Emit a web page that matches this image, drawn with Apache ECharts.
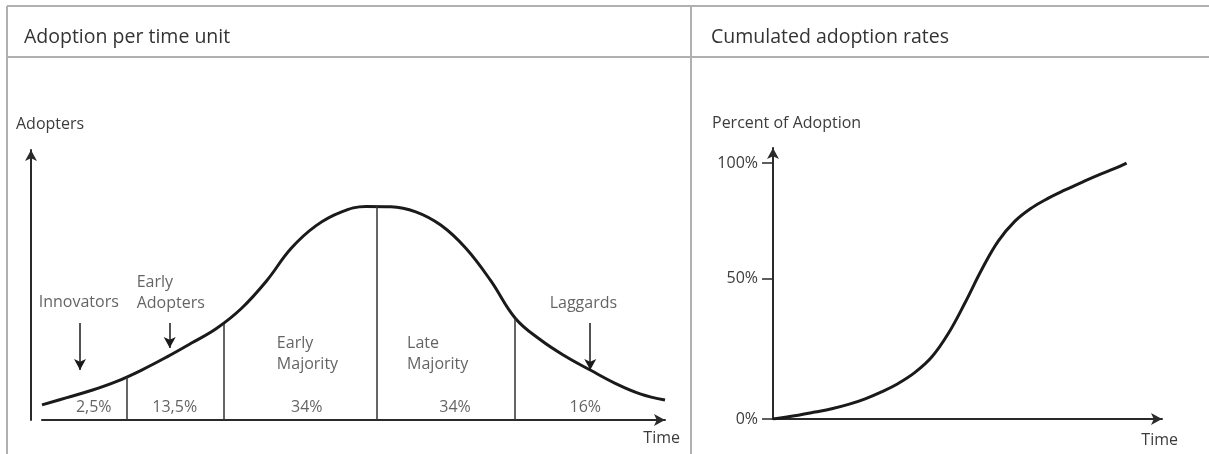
<!DOCTYPE html>
<html>
<head>
<meta charset="utf-8">
<script src="https://cdn.jsdelivr.net/npm/echarts@6/dist/echarts.min.js"></script>
<style>
html,body{margin:0;padding:0;background:#fff;}
#chart{width:1209px;height:454px;}
</style>
</head>
<body>
<div id="chart"></div>
<script>
// ---- Data (arbitrary units) ----
// Left panel: adoption per time unit (bell curve), read at even time steps
const timeUnits = [0, 4, 8, 12, 16, 20, 24, 28, 32, 36, 40, 44, 48, 52, 56, 60, 64, 68, 72, 76, 80, 84, 88, 92, 96, 100];
const adopters  = [5.6, 8.3, 11.0, 14.3, 18.5, 23.3, 28.5, 33.9, 41.3, 51.4, 63.6, 72.0, 77.0, 79.1, 79.0, 77.1, 72.2, 63.7, 51.7, 37.6, 29.7, 23.6, 18.5, 13.6, 9.7, 7.4];
// Segment boundaries: time position and height of each divider line
const dividerTimes = [13.6, 29.2, 53.8, 75.9];
const dividerHeights = [15.9, 35.6, 79.3, 37.6];
// Segment names and shares
const segmentNames = ['Innovators', 'Early\nAdopters', 'Early\nMajority', 'Late\nMajority', 'Laggards'];
const segmentShares = ['2,5%', '13,5%', '34%', '34%', '16%'];
// anchors (time, adopters) for the segment name labels
const nameAnchorTime = [5.9, 15.2, 37.7, 58.6, 86.9];
const nameAnchorLevel = [43.7, 47.2, 24.4, 24.6, 43.3];
// anchors for share labels
const shareAnchorTime = [8.3, 21.3, 42.5, 66.3, 87.2];
const shareAnchorLevel = [4.8, 4.8, 4.8, 4.8, 4.8];
// pointing arrows: time, start level, end level
const arrowTime = [6.1, 20.5, 88.0];
const arrowFrom = [35.9, 35.9, 35.9];
const arrowTo = [18.5, 26.7, 18.5];

// Right panel: cumulated adoption (S-curve)
const cumTime = [0, 6.5, 10.8, 15.1, 19.4, 23.7, 27.9, 32.2, 36.5, 40.8, 45.1, 49.4, 53.7, 57.9, 62.2, 66.5, 70.8, 75.1, 79.4, 83.6, 87.9, 90.9];
const cumAdoption = [0, 1.5, 2.7, 4.0, 5.7, 7.9, 10.6, 13.9, 18.2, 24.2, 33.5, 45.5, 58.5, 69.5, 77.3, 82.5, 86.3, 89.5, 92.5, 95.3, 97.9, 100];
const cumTickValues = [0, 55, 100];
const cumTickLabels = ['0%', '50%', '100%'];

// Titles / axis names
const panelTitles = ['Adoption per time unit', 'Cumulated adoption rates'];
const yNames = ['Adopters', 'Percent of Adoption'];
const xName = 'Time';

// ---- Build option ----
const FONT = 'Open Sans';
const FS = 16;
const TXT = '#3c3c3c';
const INK = '#1a1a1a';
const FRAME = '#b0b0b0';

const bellData = timeUnits.map((t, i) => [t, adopters[i]]);
const cumData = cumTime.map((t, i) => [t, cumAdoption[i]]);

const dividerLines = dividerTimes.map((t, i) => [{coord: [t, 0]}, {coord: [t, dividerHeights[i]]}]);
const arrowLines = arrowTime.map((t, i) => [{coord: [t, arrowFrom[i]]}, {coord: [t, arrowTo[i]]}]);

const nameData = segmentNames.map((n, i) => ({
  value: [nameAnchorTime[i], nameAnchorLevel[i]],
  label: {formatter: n, align: n.indexOf('\n') >= 0 ? 'left' : 'center'}
}));
const shareData = segmentShares.map((s, i) => ({
  value: [shareAnchorTime[i], shareAnchorLevel[i]],
  label: {formatter: s}
}));

const axisLineStyle = {color: '#2a2a2a', width: 2};

const option = {
  animation: false,
  backgroundColor: '#fff',
  textStyle: {fontFamily: FONT},
  title: [
    {text: panelTitles[0], left: 19, top: 22, textStyle: {fontFamily: FONT, fontSize: 19.5, fontWeight: 'normal', color: '#333'}},
    {text: panelTitles[1], left: 706, top: 22, textStyle: {fontFamily: FONT, fontSize: 19.5, fontWeight: 'normal', color: '#333'}}
  ],
  graphic: [
    {type: 'line', shape: {x1: 7, y1: 6, x2: 1209, y2: 6}, style: {stroke: FRAME, lineWidth: 2}},
    {type: 'line', shape: {x1: 7, y1: 57, x2: 1209, y2: 57}, style: {stroke: FRAME, lineWidth: 2}},
    {type: 'line', shape: {x1: 7, y1: 6, x2: 7, y2: 454}, style: {stroke: FRAME, lineWidth: 2}},
    {type: 'line', shape: {x1: 691, y1: 6, x2: 691, y2: 454}, style: {stroke: FRAME, lineWidth: 2}},
    {type: 'text', left: 16, top: 116, style: {text: yNames[0], font: FS + 'px "Open Sans"', fill: TXT}},
    {type: 'text', left: 712, top: 115, style: {text: yNames[1], font: FS + 'px "Open Sans"', fill: TXT}}
  ],
  grid: [
    {left: 42, right: 544, top: 150, bottom: 34},
    {left: 773, right: 47, top: 148, bottom: 35}
  ],
  xAxis: [
    {
      type: 'value', gridIndex: 0, min: 0, max: 100,
      axisLine: {show: true, lineStyle: axisLineStyle, symbol: ['none', 'arrow'], symbolSize: [9, 11]},
      axisTick: {show: false}, axisLabel: {show: false}, splitLine: {show: false},
      name: xName, nameLocation: 'end', nameGap: 15,
      nameTextStyle: {align: 'right', verticalAlign: 'top', padding: [10, 0, 0, 0], fontSize: FS, color: TXT, fontFamily: FONT}
    },
    {
      type: 'value', gridIndex: 1, min: 0, max: 100,
      axisLine: {show: true, lineStyle: axisLineStyle, symbol: ['none', 'arrow'], symbolSize: [9, 11]},
      axisTick: {show: false}, axisLabel: {show: false}, splitLine: {show: false},
      name: xName, nameLocation: 'end', nameGap: 16,
      nameTextStyle: {align: 'right', verticalAlign: 'top', padding: [13, 0, 0, 0], fontSize: FS, color: TXT, fontFamily: FONT}
    }
  ],
  yAxis: [
    {
      type: 'value', gridIndex: 0, min: 0, max: 100, offset: 11,
      axisLine: {show: true, onZero: false, lineStyle: axisLineStyle, symbol: ['none', 'arrow'], symbolSize: [9, 11]},
      axisTick: {show: false}, axisLabel: {show: false}, splitLine: {show: false}
    },
    {
      type: 'value', gridIndex: 1, min: 0, max: 105.9,
      axisLine: {show: true, onZero: false, lineStyle: axisLineStyle, symbol: ['none', 'arrow'], symbolSize: [9, 11]},
      axisTick: {show: true, length: 11, lineStyle: {color: '#2a2a2a', width: 1.5}, customValues: cumTickValues},
      axisLabel: {
        show: true, margin: 15, fontSize: FS, color: TXT, fontFamily: FONT,
        customValues: cumTickValues,
        formatter: v => cumTickLabels[cumTickValues.indexOf(v)] || ''
      },
      splitLine: {show: false}
    }
  ],
  series: [
    {
      type: 'line', xAxisIndex: 0, yAxisIndex: 0, data: bellData,
      smooth: 0.4, showSymbol: false, symbol: 'none',
      lineStyle: {color: INK, width: 3},
      markLine: {
        silent: true, symbol: ['none', 'none'], label: {show: false},
        lineStyle: {color: '#333', width: 1.5, type: 'solid'},
        data: dividerLines
      }
    },
    {
      type: 'line', xAxisIndex: 0, yAxisIndex: 0, data: [],
      markLine: {
        silent: true, symbol: ['none', 'arrow'], symbolSize: [9, 11], label: {show: false},
        lineStyle: {color: INK, width: 1.5, type: 'solid'},
        data: arrowLines
      }
    },
    {
      type: 'scatter', xAxisIndex: 0, yAxisIndex: 0, symbolSize: 0, data: nameData,
      label: {show: true, position: 'inside', fontSize: FS, lineHeight: 21, color: TXT, fontFamily: FONT, verticalAlign: 'middle'}
    },
    {
      type: 'scatter', xAxisIndex: 0, yAxisIndex: 0, symbolSize: 0, data: shareData,
      label: {show: true, position: 'inside', fontSize: FS, color: TXT, fontFamily: FONT, align: 'center', verticalAlign: 'middle'}
    },
    {
      type: 'line', xAxisIndex: 1, yAxisIndex: 1, data: cumData,
      smooth: 0.4, showSymbol: false, symbol: 'none',
      lineStyle: {color: INK, width: 3}
    }
  ]
};

const chart = echarts.init(document.getElementById('chart'), null, {renderer: 'canvas'});
chart.setOption(option);
</script>
</body>
</html>
